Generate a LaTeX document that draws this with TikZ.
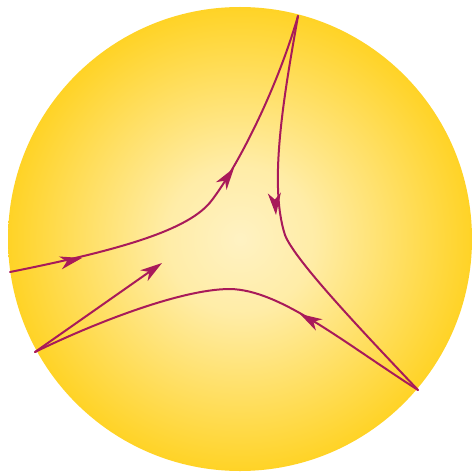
\documentclass[tikz,border=0pt]{standalone}
\usetikzlibrary{arrows.meta}
\definecolor{suninner}{RGB}{255,242,195}
\definecolor{sunouter}{RGB}{255,211,38}
\definecolor{flow}{RGB}{168,26,90}
\pgfdeclareradialshading{sunshade}{\pgfpoint{0bp}{0bp}}{%
  color(0bp)=(suninner); color(8bp)=(suninner!82!sunouter); color(25bp)=(sunouter); color(50bp)=(sunouter)}
\tikzset{
  flowline/.style={draw=flow, line width=2pt, line cap=round, line join=round},
  headonly/.style={draw=flow, line width=2pt, -{Stealth[length=22pt, width=13pt, inset=6.5pt]}},
}
\begin{document}
\begin{tikzpicture}[x=1pt,y=-1pt]
\useasboundingbox (0,0) rectangle (472,473);
\clip (0,0) rectangle (472,473);
\shade[shading=sunshade] (240,239) circle (232);
% boundary points
\coordinate (T) at (298,16);
\coordinate (L) at (35,352);
\coordinate (R) at (418,390);
\coordinate (E) at (10,272);
\coordinate (H) at (162,263);
% joints
\coordinate (J1) at (212,200);
\coordinate (J2) at (285,235);
\coordinate (J3) at (230,289);
% arrow tip positions and points just behind them
\coordinate (a1) at (82,258);   \coordinate (b1) at (77.6,259);
\coordinate (a2) at (234,168);  \coordinate (b2) at (231.8,171.1);
\coordinate (a3) at (276,215);  \coordinate (b3) at (275.7,211);
\coordinate (a4) at (300,314);  \coordinate (b4) at (303.5,316);
% curve 1
\draw[flowline] (E) .. controls (120,250) and (190,230) .. (J1)
                    .. controls (235,170) and (275,95) .. (T);
% curve 2
\draw[flowline] (T) .. controls (285,90) and (268,183) .. (J2)
                    .. controls (294.5,260) and (363,332) .. (R);
% curve 3
\draw[flowline] (R) .. controls (340,340) and (280,290) .. (J3)
                    .. controls (180,289) and (90,325) .. (L);
% curve 4
\draw[flowline, -{Stealth[length=22pt, width=13pt, inset=6.5pt]}] (L) -- (H);
% arrowheads
\draw[headonly] (b1) -- (a1);
\draw[headonly] (b2) -- (a2);
\draw[headonly] (b3) -- (a3);
\draw[headonly] (b4) -- (a4);
\end{tikzpicture}
\end{document}
